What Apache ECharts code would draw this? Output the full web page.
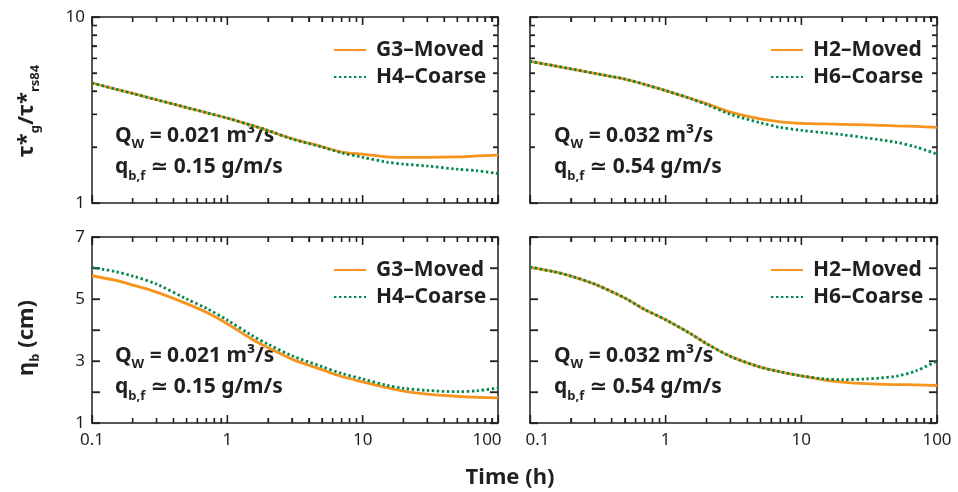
<!DOCTYPE html>
<html>
<head>
<meta charset="utf-8">
<script src="https://cdn.jsdelivr.net/npm/echarts@6/dist/echarts.min.js"></script>
<style>
  html, body { margin: 0; padding: 0; background: #ffffff; }
  #figure { position: relative; width: 958px; height: 492px; }
  #figure > div { position: absolute; }
  #titles { left: 0; top: 0; width: 958px; height: 492px; }
</style>
</head>
<body>
<div id="figure">
  <div id="titles"></div>
  <div id="panel0"></div>
  <div id="panel1"></div>
  <div id="panel2"></div>
  <div id="panel3"></div>
</div>
<script>
// Time samples (h), shared by every curve
const times = [0.1, 0.15, 0.2, 0.3, 0.5, 0.7, 1, 1.5, 2, 3, 5, 7, 10, 15, 20, 30, 50, 70, 100];

// Grain shear stress ratio tau*_g / tau*_rs84
const tauG3Moved  = [4.42, 4.09, 3.88, 3.59, 3.26, 3.06, 2.86, 2.62, 2.45, 2.22, 2.01, 1.88, 1.83, 1.77, 1.76, 1.76, 1.77, 1.79, 1.81];
const tauH4Coarse = [4.42, 4.09, 3.88, 3.59, 3.26, 3.06, 2.86, 2.62, 2.45, 2.21, 2.00, 1.86, 1.76, 1.66, 1.62, 1.58, 1.52, 1.49, 1.44];
const tauH2Moved  = [5.78, 5.47, 5.26, 4.97, 4.64, 4.34, 4.02, 3.66, 3.42, 3.08, 2.83, 2.73, 2.68, 2.66, 2.65, 2.63, 2.60, 2.58, 2.55];
const tauH6Coarse = [5.78, 5.47, 5.26, 4.97, 4.64, 4.34, 4.02, 3.66, 3.38, 3.00, 2.70, 2.55, 2.46, 2.38, 2.33, 2.24, 2.12, 2.00, 1.83];

// Bedform height eta_b (cm)
const etaG3Moved  = [5.75, 5.60, 5.45, 5.22, 4.85, 4.57, 4.20, 3.72, 3.43, 3.06, 2.72, 2.50, 2.33, 2.14, 2.03, 1.93, 1.86, 1.83, 1.81];
const etaH4Coarse = [6.02, 5.88, 5.74, 5.48, 5.00, 4.70, 4.32, 3.84, 3.54, 3.17, 2.82, 2.60, 2.42, 2.22, 2.12, 2.05, 2.01, 2.04, 2.13];
const etaH2Moved  = [6.03, 5.88, 5.74, 5.48, 5.03, 4.66, 4.33, 3.90, 3.56, 3.15, 2.80, 2.65, 2.52, 2.38, 2.32, 2.27, 2.24, 2.23, 2.21];
const etaH6Coarse = [6.03, 5.88, 5.74, 5.48, 5.03, 4.66, 4.33, 3.90, 3.56, 3.15, 2.80, 2.65, 2.52, 2.42, 2.40, 2.42, 2.51, 2.68, 3.00];

// Run labels and flow conditions
const movedNames  = ['G3–Moved', 'H2–Moved'];
const coarseNames = ['H4–Coarse', 'H6–Coarse'];
const waterDischarge = ['0.021', '0.032'];   // m³/s
const feedRate       = ['0.15', '0.54'];     // g/m/s

// Axis ticks
const xMajorTicks = [0.1, 1, 10, 100];
const xMinorTicks = [0.2, 0.3, 0.4, 0.5, 0.6, 0.7, 0.8, 0.9, 2, 3, 4, 5, 6, 7, 8, 9, 20, 30, 40, 50, 60, 70, 80, 90];
const tauMajorTicks = [1, 10];
const tauMinorTicks = [2, 3, 4, 5, 6, 7, 8, 9];
const etaTicks = [1, 2, 3, 4, 5, 6, 7];
const etaLabels = [1, 3, 5, 7];

const INK = '#231f20';
const ORANGE = '#f7941d';
const GREEN = '#00884a';
const FONT = "'Noto Sans', 'DejaVu Sans', sans-serif";

// Each panel gets its own chart instance; box = its div, grid = plot frame (page px)
const panels = [
  { box: [0, 0, 515, 228],     grid: [92, 17, 406, 186],  row: 0, col: 0, moved: tauG3Moved, coarse: tauH4Coarse },
  { box: [515, 0, 443, 228],   grid: [530, 17, 407, 186], row: 0, col: 1, moved: tauH2Moved, coarse: tauH6Coarse },
  { box: [0, 228, 515, 264],   grid: [92, 237, 406, 186], row: 1, col: 0, moved: etaG3Moved, coarse: etaH4Coarse },
  { box: [515, 228, 443, 264], grid: [530, 237, 407, 186], row: 1, col: 1, moved: etaH2Moved, coarse: etaH6Coarse }
];

const X_MIN = xMajorTicks[0], X_MAX = xMajorTicks[xMajorTicks.length - 1];

function fmtNum(v) { return String(+(+v).toPrecision(6)); }

function frameAxis(extra) {
  return Object.assign({
    axisLine: { show: true, lineStyle: { color: INK, width: 1.5 } },
    axisTick: { show: true, inside: true, length: 8, lineStyle: { color: INK, width: 1.3 } },
    splitLine: { show: false }
  }, extra);
}

function logAxis(min, max, extra) {
  return frameAxis(Object.assign({
    type: 'log', logBase: 10, min: min, max: max,
    minorTick: { show: true, splitNumber: 9, length: 5, lineStyle: { color: INK, width: 1.3 } },
    minorSplitLine: { show: false }
  }, extra));
}

// Inward tick marks on all four sides of a frame, placed through the axes' scales.
// Items: [value, 1 for major | 0 for minor]
function tickMarks(items, dir, yMin, yMax) {
  const seg = (x1, y1, x2, y2) => ({ type: 'line', shape: { x1, y1, x2, y2 }, style: { stroke: INK, lineWidth: 1.3 } });
  return {
    type: 'custom', coordinateSystem: 'cartesian2d', xAxisIndex: 0, yAxisIndex: 0,
    silent: true, clip: false, z: 1,
    data: items.map(([v, major]) => dir === 'x' ? [v, yMin, major] : [X_MIN, v, major]),
    renderItem: (params, api) => {
      const len = api.value(2) === 1 ? 8 : 5;
      if (dir === 'x') {
        const v = api.value(0);
        const b = api.coord([v, yMin]), t = api.coord([v, yMax]);
        return { type: 'group', children: [seg(b[0], b[1], b[0], b[1] - len), seg(t[0], t[1], t[0], t[1] + len)] };
      }
      const v = api.value(1);
      const l = api.coord([X_MIN, v]), r = api.coord([X_MAX, v]);
      return { type: 'group', children: [seg(l[0], l[1], l[0] + len, l[1]), seg(r[0], r[1], r[0] - len, r[1])] };
    }
  };
}

const annoRich = {
  m: { fontSize: 21, fontWeight: 'bold', fontFamily: FONT, fill: INK, lineHeight: 30 },
  s: { fontSize: 13, fontWeight: 'bold', fontFamily: FONT, fill: INK, lineHeight: 13, verticalAlign: 'bottom' }
};

panels.forEach((p, i) => {
  const el = document.getElementById('panel' + i);
  el.style.left = p.box[0] + 'px';
  el.style.top = p.box[1] + 'px';
  el.style.width = p.box[2] + 'px';
  el.style.height = p.box[3] + 'px';

  const gx = p.grid[0] - p.box[0];
  const gy = p.grid[1] - p.box[1];

  const xLabel = {
    show: p.row === 1, margin: 9, fontSize: 17, fontFamily: FONT, color: INK,
    formatter: (v) => {
      const s = fmtNum(v);
      if (p.col === 0 && +v === X_MAX) return '{r|' + s + '}';
      if (p.col === 1 && +v === X_MIN) return '{l|' + s + '}';
      return s;
    },
    rich: {
      r: { padding: [0, 22, 0, 0], fontSize: 17, fontFamily: FONT, color: INK },
      l: { padding: [0, 0, 0, 15], fontSize: 17, fontFamily: FONT, color: INK }
    }
  };
  const xAxis = [
    logAxis(X_MIN, X_MAX, { position: 'bottom', axisLabel: xLabel }),
    logAxis(X_MIN, X_MAX, { position: 'top', axisLabel: { show: false } })
  ];

  const yLabel = {
    show: p.col === 0, margin: 7, fontSize: 17, fontFamily: FONT, color: INK,
    formatter: (v) => (p.row === 1 && etaLabels.indexOf(+v) < 0) ? '' : fmtNum(v)
  };
  let yAxis, yMin, yMax, yTickItems;
  if (p.row === 0) {
    yMin = tauMajorTicks[0]; yMax = tauMajorTicks[tauMajorTicks.length - 1];
    yAxis = [
      logAxis(yMin, yMax, { position: 'left', axisLabel: yLabel }),
      logAxis(yMin, yMax, { position: 'right', axisLabel: { show: false } })
    ];
    yTickItems = tauMajorTicks.map(v => [v, 1]).concat(tauMinorTicks.map(v => [v, 0]));
  } else {
    yMin = etaTicks[0]; yMax = etaTicks[etaTicks.length - 1];
    const lin = { type: 'value', min: yMin, max: yMax, interval: 1 };
    yAxis = [
      frameAxis(Object.assign({}, lin, { position: 'left', axisLabel: yLabel })),
      frameAxis(Object.assign({}, lin, { position: 'right', axisLabel: { show: false } }))
    ];
    yTickItems = etaTicks.map(v => [v, 1]);
  }
  const xTickItems = xMajorTicks.map(v => [v, 1]).concat(xMinorTicks.map(v => [v, 0]));

  const movedName = movedNames[p.col];
  const coarseName = coarseNames[p.col];
  const series = [
    tickMarks(xTickItems, 'x', yMin, yMax),
    tickMarks(yTickItems, 'y', yMin, yMax),
    {
      type: 'line', name: movedName, xAxisIndex: 0, yAxisIndex: 0,
      data: times.map((t, k) => [t, p.moved[k]]),
      symbol: 'none', smooth: 0.3,
      lineStyle: { color: ORANGE, width: 2.8 },
      z: 2
    }, {
      type: 'line', name: coarseName, xAxisIndex: 0, yAxisIndex: 0,
      data: times.map((t, k) => [t, p.coarse[k]]),
      symbol: 'none', smooth: 0.3,
      lineStyle: { color: GREEN, width: 2.8, type: [2.4, 2.6] },
      z: 3
    }
  ];

  const legend = [{
    orient: 'vertical', left: gx + (p.col === 0 ? 236 : 235), top: gy + 16,
    itemWidth: 32, itemHeight: 14, itemGap: 3, selectedMode: false,
    itemStyle: { opacity: 0 },
    textStyle: { fontSize: 21, fontWeight: 'bold', fontFamily: FONT, color: INK, lineHeight: 24, padding: [0, 0, 0, 5] },
    data: [movedName, coarseName]
  }];

  const ax = gx + (p.col === 0 ? 23 : 24);
  const graphic = [{
    type: 'text', x: ax, y: gy + 119, silent: true,
    style: { text: '{m|Q}{s|W}{m| = ' + waterDischarge[p.col] + ' m³/s}', rich: annoRich, align: 'left', verticalAlign: 'middle' }
  }, {
    type: 'text', x: ax, y: gy + 150.5, silent: true,
    style: { text: '{m|q}{s|b,f}{m| ≃ ' + feedRate[p.col] + ' g/m/s}', rich: annoRich, align: 'left', verticalAlign: 'middle' }
  }];

  const chart = echarts.init(el);
  chart.setOption({
    animation: false,
    grid: [{ left: gx, top: gy, width: p.grid[2], height: p.grid[3] }],
    xAxis, yAxis, series, legend, graphic
  });
});

// Shared axis titles
const nameRich = {
  t: { fontSize: 22, fontWeight: 'bold', fontFamily: FONT, fill: INK, lineHeight: 30 },
  s: { fontSize: 13, fontWeight: 'bold', fontFamily: FONT, fill: INK, lineHeight: 13, verticalAlign: 'bottom' }
};
const titles = echarts.init(document.getElementById('titles'));
titles.setOption({
  animation: false,
  graphic: [{
    type: 'text', x: 27, y: 111, rotation: Math.PI / 2, silent: true,
    style: { text: '{t|τ*}{s|g}{t|/τ*}{s|rs84}', rich: nameRich, align: 'center', verticalAlign: 'middle' }
  }, {
    type: 'text', x: 27, y: 338, rotation: Math.PI / 2, silent: true,
    style: { text: '{t|η}{s|b}{t| (cm)}', rich: nameRich, align: 'center', verticalAlign: 'middle' }
  }, {
    type: 'text', x: 510, y: 478, silent: true,
    style: { text: 'Time (h)', fontSize: 22, fontWeight: 'bold', fontFamily: FONT, fill: INK, align: 'center', verticalAlign: 'middle' }
  }]
});
</script>
</body>
</html>
